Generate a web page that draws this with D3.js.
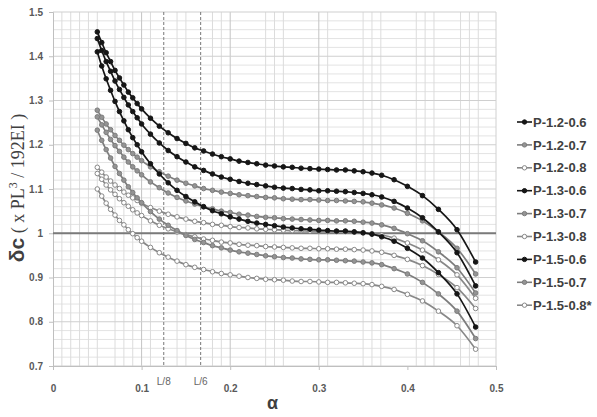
<!DOCTYPE html>
<html>
<head>
<meta charset="utf-8">
<script src="https://cdn.jsdelivr.net/npm/d3@7"></script>
<style>
  body { margin: 0; background: #fff; }
  text { font-family: "Liberation Sans", Arial, sans-serif; }
</style>
</head>
<body>
<div id="chart"></div>
<script>
// alpha values where each curve was sampled
let alphas = [0.05, 0.055, 0.06, 0.065, 0.07, 0.075, 0.08, 0.085, 0.09, 0.095, 0.1,
  0.11, 0.12, 0.13, 0.14, 0.15, 0.16, 0.17, 0.18, 0.19, 0.2, 0.21, 0.22, 0.23, 0.24,
  0.25, 0.26, 0.27, 0.28, 0.29, 0.3, 0.31, 0.32, 0.33, 0.34, 0.35, 0.36,
  0.371, 0.385, 0.4, 0.417, 0.435, 0.456, 0.477];

let p12_06 = [1.455, 1.431, 1.408, 1.388, 1.368, 1.351, 1.335, 1.319, 1.306, 1.293, 1.281,
  1.260, 1.242, 1.227, 1.214, 1.203, 1.193, 1.186, 1.179, 1.173, 1.168, 1.163, 1.160, 1.157, 1.154,
  1.152, 1.150, 1.149, 1.147, 1.146, 1.145, 1.144, 1.143, 1.143, 1.141, 1.139, 1.136,
  1.131, 1.121, 1.106, 1.085, 1.054, 1.008, 0.935];
let p12_07 = [1.278, 1.262, 1.247, 1.234, 1.221, 1.210, 1.199, 1.189, 1.180, 1.172, 1.164,
  1.150, 1.139, 1.129, 1.120, 1.113, 1.107, 1.101, 1.097, 1.093, 1.090, 1.087, 1.085, 1.083, 1.081,
  1.080, 1.078, 1.077, 1.076, 1.076, 1.075, 1.074, 1.074, 1.073, 1.072, 1.071, 1.068,
  1.064, 1.057, 1.045, 1.028, 1.003, 0.966, 0.908];
let p12_08 = [1.149, 1.138, 1.127, 1.118, 1.109, 1.101, 1.093, 1.086, 1.080, 1.074, 1.068,
  1.058, 1.050, 1.043, 1.037, 1.032, 1.027, 1.024, 1.020, 1.018, 1.015, 1.013, 1.012, 1.010, 1.009,
  1.008, 1.007, 1.006, 1.006, 1.005, 1.005, 1.004, 1.004, 1.004, 1.003, 1.001, 0.999,
  0.996, 0.989, 0.978, 0.962, 0.940, 0.906, 0.853];
let p13_06 = [1.440, 1.413, 1.388, 1.366, 1.344, 1.325, 1.307, 1.290, 1.275, 1.261, 1.247,
  1.224, 1.204, 1.187, 1.173, 1.161, 1.150, 1.142, 1.134, 1.127, 1.122, 1.117, 1.113, 1.110, 1.107,
  1.104, 1.102, 1.101, 1.099, 1.098, 1.096, 1.096, 1.095, 1.094, 1.092, 1.090, 1.087,
  1.082, 1.072, 1.057, 1.035, 1.003, 0.956, 0.881];
let p13_07 = [1.263, 1.245, 1.228, 1.212, 1.198, 1.185, 1.172, 1.161, 1.150, 1.141, 1.132,
  1.116, 1.103, 1.091, 1.081, 1.073, 1.066, 1.060, 1.055, 1.050, 1.047, 1.043, 1.041, 1.038, 1.036,
  1.035, 1.033, 1.032, 1.031, 1.030, 1.029, 1.029, 1.028, 1.028, 1.027, 1.025, 1.023,
  1.019, 1.011, 0.999, 0.983, 0.958, 0.922, 0.865];
let p13_08 = [1.135, 1.122, 1.109, 1.098, 1.088, 1.078, 1.069, 1.061, 1.053, 1.046, 1.040,
  1.028, 1.018, 1.010, 1.003, 0.997, 0.992, 0.987, 0.984, 0.980, 0.978, 0.975, 0.973, 0.972, 0.970,
  0.969, 0.968, 0.967, 0.966, 0.966, 0.965, 0.965, 0.964, 0.964, 0.963, 0.962, 0.960,
  0.957, 0.950, 0.941, 0.927, 0.907, 0.877, 0.830];
let p15_06 = [1.410, 1.378, 1.349, 1.323, 1.298, 1.275, 1.254, 1.234, 1.216, 1.200, 1.184,
  1.157, 1.134, 1.114, 1.097, 1.083, 1.071, 1.060, 1.051, 1.044, 1.037, 1.032, 1.027, 1.023, 1.020,
  1.017, 1.014, 1.012, 1.010, 1.009, 1.007, 1.006, 1.005, 1.005, 1.003, 1.001, 0.998,
  0.992, 0.982, 0.966, 0.944, 0.911, 0.863, 0.788];
let p15_07 = [1.233, 1.210, 1.189, 1.170, 1.151, 1.135, 1.120, 1.105, 1.092, 1.080, 1.069,
  1.049, 1.032, 1.018, 1.006, 0.995, 0.986, 0.979, 0.972, 0.967, 0.962, 0.958, 0.955, 0.952, 0.949,
  0.947, 0.945, 0.944, 0.942, 0.941, 0.940, 0.940, 0.939, 0.938, 0.937, 0.935, 0.933,
  0.929, 0.920, 0.908, 0.889, 0.863, 0.824, 0.762];
let p15_08 = [1.100, 1.084, 1.068, 1.054, 1.041, 1.029, 1.019, 1.008, 0.999, 0.990, 0.982,
  0.968, 0.956, 0.946, 0.937, 0.929, 0.923, 0.918, 0.913, 0.909, 0.906, 0.903, 0.900, 0.898, 0.896,
  0.895, 0.894, 0.892, 0.891, 0.891, 0.890, 0.889, 0.889, 0.888, 0.887, 0.886, 0.884,
  0.880, 0.873, 0.862, 0.847, 0.824, 0.791, 0.738];

let seriesNames = ["P-1.2-0.6", "P-1.2-0.7", "P-1.2-0.8", "P-1.3-0.6", "P-1.3-0.7",
  "P-1.3-0.8", "P-1.5-0.6", "P-1.5-0.7", "P-1.5-0.8*"];
let seriesValues = [p12_06, p12_07, p12_08, p13_06, p13_07, p13_08, p15_06, p15_07, p15_08];

let xTicks = [0, 0.1, 0.2, 0.3, 0.4, 0.5];
let yTicks = [0.7, 0.8, 0.9, 1.0, 1.1, 1.2, 1.3, 1.4, 1.5];
// vertical grid lines as they appear in the figure
let gridX = [0.01, 0.02, 0.03, 0.04, 0.05, 0.07, 0.08, 0.09, 0.1, 0.11, 0.14, 0.15,
  0.18, 0.19, 0.2, 0.24, 0.25, 0.26, 0.3, 0.31, 0.35, 0.36, 0.37, 0.41, 0.42, 0.43,
  0.46, 0.47, 0.48];
let refLines = [{ x: 0.125, label: "L/8" }, { x: 1 / 6, label: "L/6" }];

let svgWidth = 597;
let svgHeight = 417;
let margin = { top: 12, right: 101, bottom: 51, left: 53 };
let width = svgWidth - margin.left - margin.right;
let height = svgHeight - margin.top - margin.bottom;

let svg = d3.select("#chart")
  .append("svg")
  .attr("width", svgWidth)
  .attr("height", svgHeight);

let chartGroup = svg.append("g")
  .attr("transform", `translate(${margin.left}, ${margin.top})`);

let x = d3.scaleLinear().domain([0, 0.5]).range([0, width]);
let y = d3.scaleLinear().domain([0.7, 1.5]).range([height, 0]);

// minor horizontal grid every 0.02
let minorY = d3.range(0.72, 1.5, 0.02).filter(v => Math.abs(v * 10 - Math.round(v * 10)) > 0.01);
chartGroup.append("g").selectAll("line")
  .data(minorY).enter().append("line")
  .attr("x1", 0).attr("x2", width)
  .attr("y1", d => y(d)).attr("y2", d => y(d))
  .attr("stroke", "#e3e3e3").attr("stroke-width", 1);

chartGroup.append("g").selectAll("line")
  .data(gridX).enter().append("line")
  .attr("x1", d => x(d)).attr("x2", d => x(d))
  .attr("y1", 0).attr("y2", height)
  .attr("stroke", d => [0.1, 0.2, 0.3].includes(d) ? "#c4c4c4" : "#dcdcdc")
  .attr("stroke-width", 1);

chartGroup.append("g").selectAll("line")
  .data(yTicks).enter().append("line")
  .attr("x1", 0).attr("x2", width)
  .attr("y1", d => y(d)).attr("y2", d => y(d))
  .attr("stroke", "#cfcfcf").attr("stroke-width", 1);

// right border
chartGroup.append("line")
  .attr("x1", width).attr("x2", width).attr("y1", 0).attr("y2", height)
  .attr("stroke", "#d0d0d0");

// dashed L/8, L/6 lines
chartGroup.selectAll(".refLine")
  .data(refLines).enter().append("line")
  .attr("x1", d => x(d.x)).attr("x2", d => x(d.x))
  .attr("y1", 0).attr("y2", height)
  .attr("stroke", "#777").attr("stroke-width", 1)
  .attr("stroke-dasharray", "3,2");

chartGroup.selectAll(".refText")
  .data(refLines).enter().append("text")
  .attr("x", d => x(d.x)).attr("y", height + 19)
  .attr("text-anchor", "middle")
  .attr("font-family", "Liberation Serif, serif")
  .attr("font-size", "10px").attr("fill", "#666")
  .text(d => d.label);

// axes
let fmt = d => String(+d.toFixed(1));
let bottomAxis = d3.axisBottom(x).tickValues(xTicks).tickFormat(fmt).tickSize(4);
let leftAxis = d3.axisLeft(y).tickValues(yTicks).tickFormat(fmt).tickSize(4);

let xAxisG = chartGroup.append("g")
  .attr("transform", `translate(0, ${height})`)
  .call(bottomAxis);
let yAxisG = chartGroup.append("g").call(leftAxis);

[xAxisG, yAxisG].forEach(g => {
  g.select(".domain").attr("stroke", "#bfbfbf");
  g.selectAll(".tick line").attr("stroke", "#bfbfbf");
  g.selectAll(".tick text")
    .attr("fill", "#595959")
    .attr("font-size", "10px")
    .attr("font-weight", "bold")
    .attr("font-family", "Liberation Sans, Arial, sans-serif");
});
xAxisG.selectAll(".tick text").attr("dy", "1.9em");
yAxisG.selectAll(".tick text").attr("dx", "-0.3em");

// the 1.0 reference line
chartGroup.append("line")
  .attr("x1", 0).attr("x2", width)
  .attr("y1", y(1)).attr("y2", y(1))
  .attr("stroke", "#7a7a7a").attr("stroke-width", 2);

// series styles by stiffness group
function styleOf(name) {
  if (name.includes("-0.6")) return { line: "#161616", fill: "#161616", stroke: "#161616" };
  if (name.includes("-0.7")) return { line: "#7d7d7d", fill: "#949494", stroke: "#7d7d7d" };
  return { line: "#888888", fill: "#ffffff", stroke: "#888888" };
}

let series = seriesNames.map((name, i) => ({
  name: name,
  style: styleOf(name),
  points: alphas.map((a, j) => ({ a: a, v: seriesValues[i][j] }))
}));

let lineGen = d3.line()
  .x(d => x(d.a))
  .y(d => y(d.v))
  .curve(d3.curveMonotoneX);

// draw grey ones first so black curves sit on top
let drawOrder = series.filter(s => !s.name.includes("-0.6"))
  .concat(series.filter(s => s.name.includes("-0.6")));

drawOrder.forEach(s => {
  let g = chartGroup.append("g");
  g.append("path")
    .datum(s.points)
    .attr("d", lineGen)
    .attr("fill", "none")
    .attr("stroke", s.style.line)
    .attr("stroke-width", 1.7);
  g.selectAll("circle")
    .data(s.points).enter().append("circle")
    .attr("cx", d => x(d.a))
    .attr("cy", d => y(d.v))
    .attr("r", 2.3)
    .attr("fill", s.style.fill)
    .attr("stroke", s.style.stroke)
    .attr("stroke-width", 1);
});

// legend
let legend = svg.append("g").attr("transform", "translate(517, 122)");
let legendItems = legend.selectAll("g")
  .data(series).enter().append("g")
  .attr("transform", (d, i) => `translate(0, ${i * 22.9})`);
legendItems.append("line")
  .attr("x1", 0).attr("x2", 15).attr("y1", 0).attr("y2", 0)
  .attr("stroke", d => d.style.line).attr("stroke-width", 1.6);
legendItems.append("circle")
  .attr("cx", 7.5).attr("cy", 0).attr("r", 2.2)
  .attr("fill", d => d.style.fill)
  .attr("stroke", d => d.style.stroke).attr("stroke-width", 1);
legendItems.append("text")
  .attr("x", 16).attr("y", 0).attr("dy", "0.36em")
  .attr("font-size", "13px").attr("font-weight", "bold")
  .attr("fill", "#404040")
  .text(d => d.name);

// axis titles
svg.append("text")
  .attr("x", margin.left + x(0.25) - 2).attr("y", 409)
  .attr("text-anchor", "middle")
  .attr("font-size", "18px").attr("font-weight", "bold")
  .attr("fill", "#404040")
  .text("α");

let yTitle = svg.append("text")
  .attr("transform", "translate(24, 188) rotate(-90)")
  .attr("text-anchor", "middle")
  .attr("fill", "#404040");
yTitle.append("tspan")
  .attr("font-size", "21px").attr("font-weight", "bold")
  .text("δc");
yTitle.append("tspan")
  .attr("font-family", "Liberation Serif, serif")
  .attr("font-size", "18px")
  .text(" ( x PL");
yTitle.append("tspan")
  .attr("font-family", "Liberation Serif, serif")
  .attr("font-size", "12px").attr("dy", "-7")
  .text("3");
yTitle.append("tspan")
  .attr("font-family", "Liberation Serif, serif")
  .attr("font-size", "18px").attr("dy", "7")
  .text(" / 192EI )");
</script>
</body>
</html>
